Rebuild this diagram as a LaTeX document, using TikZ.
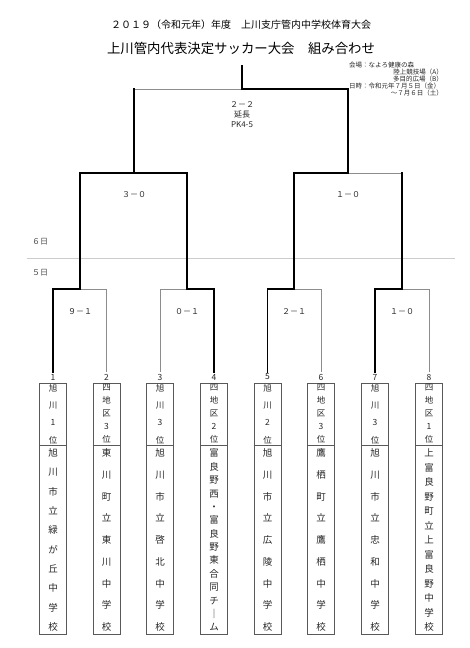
\documentclass[tikz,border=0pt]{standalone}
\usepackage{fontspec}
\setmainfont{Noto Sans CJK JP}
\newcommand{\teamcol}[7]{%
  \node[seed] (n#1) at (#2,377) {#3};
  \node[teambox] (box#1) at (#2,508.5) {};
  \draw[boxline] (box#1.west |- dv) -- (box#1.east |- dv);
  \node[lab, font=\fontsize{8.5}{#5}\selectfont] (up#1) at (#2,414) {#4};
  \node[lab, font=\fontsize{9.5}{#7}\selectfont] (nm#1) at (#2,540) {#6};
}
\begin{document}
\begin{tikzpicture}[x=1pt,y=-1pt,
  win/.style={line width=1.8pt, black, line cap=rect},
  lose/.style={line width=0.7pt, color=black!45},
  boxline/.style={draw=black!65, line width=0.7pt},
  teambox/.style={draw=black!65, line width=0.7pt, minimum width=27pt, minimum height=251pt, inner sep=0pt},
  seed/.style={font=\fontsize{8.5}{9}\selectfont, inner sep=0pt, text=black!85},
  lab/.style={align=center, inner sep=0pt, text=black!85},
  score/.style={font=\fontsize{8}{10}\selectfont, inner sep=0pt, text=black!85, align=center},
  venue/.style={font=\fontsize{6.5}{7}\selectfont, inner sep=0pt, text=black!85},
  day/.style={font=\fontsize{8}{9}\selectfont, inner sep=0pt, text=black!70},
  daysep/.style={line width=0.6pt, color=black!20}
]
\useasboundingbox (0,0) rectangle (470,648);
\coordinate (dv) at (0,445);

% titles
\node[inner sep=0pt, font=\fontsize{10}{12}\selectfont] (t1) at (241,25) {２０１９（令和元年）年度　上川支庁管内中学校体育大会};
\node[inner sep=0pt, font=\fontsize{13.4}{15}\selectfont] (t2) at (241,48) {上川管内代表決定サッカー大会　組み合わせ};

% venue
\node[venue, anchor=west] (v1) at (349,65) {会場：なよろ健康の森};
\node[venue, anchor=east] (v2) at (443,72) {陸上競技場（A）};
\node[venue, anchor=east] (v3) at (443,79) {多目的広場（B）};
\node[venue, anchor=west] (v4) at (349,86) {日時：令和元年７月５日（金）};
\node[venue, anchor=east] (v5) at (443,93) {～７月６日（土）};

% day separator
\coordinate (sepL) at (27,258);
\coordinate (sepR) at (455,258);
\draw[daysep] (sepL) -- (sepR);
\node[day] (d6) at (40,242) {６日};
\node[day] (d5) at (40,273) {５日};

% teams
\teamcol{1}{53}{1}{旭\\川\\1\\位}{17.3}{旭\\川\\市\\立\\緑\\が\\丘\\中\\学\\校}{19.33}
\teamcol{2}{106.5}{2}{四\\地\\区\\3\\位}{13}{東\\川\\町\\立\\東\\川\\中\\学\\校}{21.75}
\teamcol{3}{160}{3}{旭\\川\\3\\位}{17.3}{旭\\川\\市\\立\\啓\\北\\中\\学\\校}{21.75}
\teamcol{4}{214}{4}{四\\地\\区\\2\\位}{13}{富\\良\\野\\西\\・\\富\\良\\野\\東\\合\\同\\チ\\｜\\ム}{13.38}
\teamcol{5}{267.5}{5}{旭\\川\\2\\位}{17.3}{旭\\川\\市\\立\\広\\陵\\中\\学\\校}{21.75}
\teamcol{6}{321}{6}{四\\地\\区\\3\\位}{13}{鷹\\栖\\町\\立\\鷹\\栖\\中\\学\\校}{21.75}
\teamcol{7}{375}{7}{旭\\川\\3\\位}{17.3}{旭\\川\\市\\立\\忠\\和\\中\\学\\校}{21.75}
\teamcol{8}{429}{8}{四\\地\\区\\1\\位}{13}{上\\富\\良\\野\\町\\立\\上\\富\\良\\野\\中\\学\\校}{14.5}

% bracket coordinates
\coordinate (ja) at (80,289);
\coordinate (jb) at (187,289);
\coordinate (jc) at (294,289);
\coordinate (jd) at (402,289);
\coordinate (sa) at (134,173);
\coordinate (sb) at (348,173);
\coordinate (fj) at (242,89);
\coordinate (champ) at (242,66);

% round 1
\draw[lose, shorten <=1.5pt] (n2.north) |- (ja);
\draw[win, shorten <=1.5pt] (n1.north) |- (ja);
\draw[lose, shorten <=1.5pt] (n3.north) |- (jb);
\draw[win, shorten <=1.5pt] (n4.north) |- (jb);
\draw[lose, shorten <=1.5pt] (n6.north) |- (jc);
\draw[win, shorten <=1.5pt] (n5.north) |- (jc);
\draw[lose, shorten <=1.5pt] (n8.north) |- (jd);
\draw[win, shorten <=1.5pt] (n7.north) |- (jd);

% semi finals
\draw[win] (ja) |- (sa);
\draw[win] (jb) |- (sa);
\draw[lose] (jd |- sb) -- (sb);
\draw[win] (jd) -- (jd |- sb);
\draw[win] (jc) |- (sb);

% final
\draw[lose] (sa |- fj) -- (fj);
\draw[win] (sa) -- (sa |- fj);
\draw[win] (sb) |- (fj);
\draw[win] (fj) -- (champ);

% scores
\node[score] (s1) at (80,312) {９－１};
\node[score] (s2) at (187,312) {０－１};
\node[score] (s3) at (294,312) {２－１};
\node[score] (s4) at (402,312) {１－０};
\node[score] (s5) at (134,195) {３－０};
\node[score] (s6) at (348,195) {１－０};
\node[score] (s7) at (242,115) {２－２\\延長\\PK4-5};
\end{tikzpicture}
\end{document}
